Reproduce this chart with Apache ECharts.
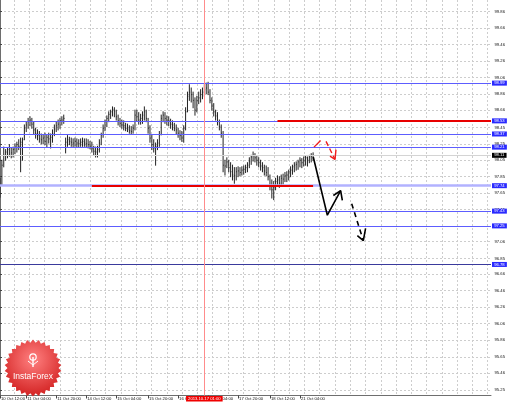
<!DOCTYPE html>
<html><head><meta charset="utf-8">
<script src="https://cdn.jsdelivr.net/npm/echarts@6/dist/echarts.min.js"></script>
<style>html,body{margin:0;padding:0;background:#fff}#c{width:510px;height:404px}</style>
</head><body><div id="c"></div>
<script>
// ---- data (H1 bars, index = bar number from 10 Oct 12:00) ----
const highs = [97.83,98.05,98.21,98.18,98.20,98.24,98.20,98.21,98.25,98.27,
98.30,98.32,98.32,98.48,98.52,98.56,98.58,98.56,98.52,98.44,
98.42,98.40,98.37,98.36,98.38,98.36,98.38,98.37,98.42,98.48,
98.52,98.54,98.56,98.58,98.60,98.32,98.35,98.33,98.32,98.31,
98.32,98.31,98.30,98.31,98.32,98.31,98.31,98.30,98.28,98.27,
98.22,98.21,98.22,98.30,98.38,98.48,98.54,98.59,98.64,98.66,
98.70,98.69,98.66,98.60,98.56,98.54,98.53,98.50,98.49,98.47,
98.46,98.48,98.66,98.66,98.63,98.61,98.64,98.70,98.66,98.56,
98.47,98.36,98.30,98.26,98.30,98.40,98.60,98.64,98.63,98.59,
98.58,98.55,98.53,98.50,98.48,98.44,98.41,98.40,98.47,98.69,
98.88,98.97,98.93,98.88,98.81,98.83,98.88,98.91,98.93,98.97,
98.99,99.00,98.91,98.81,98.74,98.66,98.63,98.54,98.48,98.40,
98.05,98.08,98.05,98.02,97.99,97.96,97.96,97.97,97.96,97.97,
97.98,97.99,98.02,98.08,98.11,98.15,98.13,98.10,98.08,98.05,
98.02,97.99,97.98,97.96,97.87,97.81,97.79,97.83,97.86,97.85,
97.87,97.88,97.90,97.91,97.93,97.97,97.99,98.02,98.03,98.05,
98.08,98.07,98.09,98.10,98.09,98.11,98.13,98.14];
const lows = [97.60,97.75,97.97,98.05,98.08,98.10,98.08,98.09,98.13,98.15,
98.18,97.91,98.05,98.30,98.40,98.44,98.47,98.44,98.37,98.32,
98.30,98.27,98.25,98.25,98.24,98.21,98.26,98.20,98.27,98.35,
98.40,98.42,98.44,98.48,98.50,98.14,98.22,98.24,98.22,98.21,
98.22,98.21,98.21,98.22,98.22,98.22,98.21,98.20,98.19,98.15,
98.11,98.09,98.09,98.15,98.24,98.33,98.41,98.46,98.52,98.56,
98.59,98.58,98.54,98.48,98.46,98.44,98.42,98.41,98.40,98.38,
98.37,98.38,98.42,98.53,98.49,98.49,98.50,98.54,98.52,98.38,
98.27,98.18,98.15,97.99,98.18,98.22,98.36,98.52,98.50,98.48,
98.47,98.44,98.42,98.41,98.37,98.33,98.30,98.28,98.27,98.42,
98.64,98.78,98.76,98.69,98.60,98.64,98.74,98.76,98.80,98.83,
98.86,98.85,98.75,98.66,98.59,98.54,98.48,98.42,98.33,97.91,
97.87,97.96,97.91,97.85,97.81,97.77,97.81,97.85,97.86,97.87,
97.88,97.90,97.91,97.96,98.00,98.04,98.03,97.99,97.97,97.93,
97.91,97.87,97.86,97.81,97.69,97.59,97.57,97.69,97.74,97.72,
97.75,97.76,97.79,97.79,97.81,97.85,97.88,97.91,97.93,97.94,
97.97,97.96,97.98,97.99,97.98,98.02,98.03,98.05];
const closes = [97.75,97.99,98.11,98.15,98.18,98.20,98.14,98.18,98.21,98.24,
98.22,98.27,98.30,98.44,98.48,98.52,98.54,98.49,98.42,98.37,
98.35,98.31,98.30,98.32,98.28,98.33,98.31,98.33,98.37,98.43,
98.47,98.49,98.53,98.54,98.56,98.27,98.30,98.28,98.27,98.26,
98.28,98.26,98.25,98.27,98.28,98.26,98.25,98.24,98.22,98.19,
98.16,98.15,98.18,98.26,98.36,98.44,98.52,98.56,98.61,98.64,
98.67,98.65,98.58,98.53,98.50,98.48,98.47,98.44,98.43,98.41,
98.40,98.44,98.60,98.58,98.54,98.56,98.60,98.64,98.56,98.44,
98.32,98.24,98.20,98.22,98.26,98.36,98.56,98.60,98.56,98.54,
98.53,98.49,98.48,98.44,98.42,98.38,98.35,98.32,98.44,98.64,
98.83,98.88,98.85,98.78,98.66,98.78,98.81,98.85,98.88,98.91,
98.93,98.88,98.78,98.71,98.64,98.59,98.52,98.46,98.38,97.99,
97.98,98.03,97.96,97.91,97.87,97.86,97.91,97.92,97.90,97.93,
97.94,97.96,97.99,98.04,98.09,98.11,98.08,98.05,98.02,97.98,
97.96,97.92,97.90,97.85,97.74,97.69,97.72,97.79,97.81,97.77,
97.83,97.82,97.86,97.87,97.91,97.93,97.97,97.99,98.00,98.03,
98.05,98.02,98.05,98.08,98.05,98.09,98.10,98.11];

const yTicks = [95.25,95.46,95.65,95.86,96.06,96.26,96.46,96.66,96.85,97.06,97.25,97.45,
                97.65,97.85,98.05,98.25,98.45,98.66,98.86,99.06,99.26,99.46,99.66,99.86];
const xLabelIdx = [0,14,30,46,62,79,95,111,127,144,160];
const xLabels = ["10 Oct 12:00","11 Oct 04:00","11 Oct 20:00","14 Oct 12:00","15 Oct 04:00",
                 "15 Oct 20:00","16 Oct 12:00","17 Oct 04:00","17 Oct 20:00","18 Oct 12:00","21 Oct 04:00"];

const blueLevels = [98.99, 98.53, 98.37, 98.21, 97.43, 97.25];
const zoneLevel = 97.74;
const deepLevel = 96.78;
const bidPrice = 98.11;
const redSegments = [{price: 97.74, from: 49, to: 167}, {price: 98.53, from: 148, to: 261.9}];
const cursorIdx = 109;
const cursorLabel = "2013.10.17 01:00";

const solidPath = [[167.1,98.09],[174.6,97.38],[181.7,97.68]];
const solidHead = [[177.8,97.62],[181.7,97.68],[182.6,97.56]];
const dashPath  = [[187.6,97.52],[193.8,97.07]];
const dashHead  = [[190.6,97.13],[193.8,97.07],[195.0,97.22]];
const redPath1  = [[167.5,98.21],[171.0,98.29]];
const redPath2  = [[173.9,98.28],[178.7,98.06]];
const redHead   = [[176.0,98.10],[178.7,98.06],[179.2,98.18]];

// ---- chart ----
const X_MAX = 261.9;
const xGrid = [];
for (let v = 7.5; v < X_MAX; v += 8.15) xGrid.push(v);

const barData = closes.map((c, i) => [i, c, lows[i], highs[i]]);
const FONT = 'Liberation Sans';

function boxLabel(txt, bg) {
  return {show: true, position: 'end', distance: 1, formatter: txt, color: '#fff',
          backgroundColor: bg, padding: [0.6, 2.2, 0.4, 2.2], fontSize: 4.2, fontFamily: FONT};
}
const markData = [];
blueLevels.forEach(v => markData.push({yAxis: v, lineStyle: {color: '#5d5dff', width: 1, type: 'solid'},
  label: boxLabel(v.toFixed(2), '#2a2aff')}));
markData.push({yAxis: zoneLevel, lineStyle: {color: '#b2b2ff', width: 2.5, type: 'solid'},
  label: boxLabel(zoneLevel.toFixed(2), '#2a2aff')});
markData.push({yAxis: deepLevel, lineStyle: {color: '#3a3a9c', width: 1.2, type: 'solid'},
  label: boxLabel(deepLevel.toFixed(2), '#2a2aff')});
markData.push({yAxis: bidPrice, lineStyle: {color: '#d4d4d4', width: 1, type: 'solid'},
  label: boxLabel(bidPrice.toFixed(2), '#000')});
redSegments.forEach(s => markData.push([
  {coord: [s.from, s.price], lineStyle: {color: '#e80000', width: 2, type: 'solid'}, label: {show: false}},
  {coord: [s.to, s.price]}]));
markData.push({xAxis: cursorIdx, lineStyle: {color: '#ff8c8c', width: 1, type: 'solid'},
  label: {show: true, position: 'start', distance: 0.5, formatter: cursorLabel, color: '#fff',
          backgroundColor: '#f00000', padding: [0.8, 2, 0.6, 2], fontSize: 4.2, fontFamily: FONT}});

function lineSeries(data, color, type, width) {
  return {type: 'line', data: data, symbol: 'none', silent: true, z: 6,
          lineStyle: {color: color, width: width, type: type}};
}

// logo
const cx = 33, cy = 368, rO = 28.5, rI = 25.5, teeth = 30;
const star = [];
for (let k = 0; k < teeth * 2; k++) {
  const a = Math.PI * k / teeth - Math.PI / 2;
  const r = k % 2 === 0 ? rO : rI;
  star.push([cx + r * Math.cos(a), cy + r * Math.sin(a)]);
}

const chart = echarts.init(document.getElementById('c'), null, {renderer: 'canvas'});
chart.setOption({
  animation: false,
  backgroundColor: '#ffffff',
  grid: {left: 0, right: 19, top: 0, bottom: 8.5, containLabel: false, outerBoundsMode: 'none'},
  xAxis: [{
    type: 'value', min: 0, max: X_MAX,
    axisLine: {show: true, onZero: false, lineStyle: {color: '#6e6e6e', width: 1}},
    axisTick: {show: true, customValues: xLabelIdx, length: 3, lineStyle: {color: '#444'}},
    axisLabel: {show: true, customValues: xLabelIdx, align: 'left', margin: 1, padding: [0, 0, 0, 1],
      fontSize: 4.2, fontFamily: FONT, color: '#111',
      formatter: v => xLabels[xLabelIdx.indexOf(Math.round(v))] || ''},
    splitLine: {show: false}
  }, {
    type: 'value', min: 0, max: X_MAX, position: 'bottom',
    axisLine: {show: false}, axisLabel: {show: false},
    axisTick: {show: false, customValues: xGrid},
    splitLine: {show: true, lineStyle: {color: '#cdcdcd', type: [2, 2], width: 1}}
  }],
  yAxis: {
    type: 'value', position: 'right', min: 95.183, max: 100.003, scale: true,
    axisLine: {show: true, lineStyle: {color: '#6e6e6e', width: 1}},
    axisTick: {show: true, customValues: yTicks, length: 2, lineStyle: {color: '#444'}},
    axisLabel: {show: true, customValues: yTicks, margin: 3.5, fontSize: 4.2, fontFamily: FONT, color: '#111',
      formatter: v => v.toFixed(2)},
    splitLine: {show: true, lineStyle: {color: '#cdcdcd', type: [2, 2], width: 1}}
  },
  series: [
    {
      type: 'line', data: [], silent: true, z: 3,
      markLine: {silent: true, symbol: ['none', 'none'], animation: false, precision: 2, data: markData}
    },
    {
      type: 'custom', data: barData, silent: true, z: 4,
      encode: {x: 0, y: [1, 2, 3]},
      renderItem: function (params, api) {
        const x = api.value(0);
        const pc = api.coord([x, api.value(1)]);
        const pl = api.coord([x, api.value(2)]);
        const ph = api.coord([x, api.value(3)]);
        return {type: 'group', children: [
          {type: 'line', shape: {x1: pl[0], y1: pl[1] + 0.5, x2: ph[0], y2: ph[1] - 0.5},
           style: {stroke: '#222', lineWidth: 1}},
          {type: 'line', shape: {x1: pc[0], y1: pc[1], x2: pc[0] + 0.8, y2: pc[1]},
           style: {stroke: '#222', lineWidth: 0.9}}
        ]};
      }
    },
    lineSeries(solidPath, '#000', 'solid', 1.6),
    lineSeries(solidHead, '#000', 'solid', 1.6),
    lineSeries(dashPath, '#000', [5, 4], 1.6),
    lineSeries(dashHead, '#000', 'solid', 1.6),
    lineSeries(redPath1, '#ee1c1c', 'solid', 1.4),
    lineSeries(redPath2, '#ee1c1c', [5, 3], 1.4),
    lineSeries(redHead, '#ee1c1c', 'solid', 1.4)
  ],
  graphic: [
    {type: 'polygon', z: 100, shape: {points: star},
     style: {fill: new echarts.graphic.RadialGradient(0.5, 0.35, 0.7, [
       {offset: 0, color: '#ff8080'}, {offset: 1, color: '#d01c1c'}])}},
    {type: 'circle', z: 101, shape: {cx: 33, cy: 357, r: 3.2}, style: {fill: 'none', stroke: '#fff', lineWidth: 1.2}},
    {type: 'line', z: 101, shape: {x1: 33, y1: 357, x2: 33, y2: 367}, style: {stroke: '#fff', lineWidth: 1.4}},
    {type: 'polyline', z: 101, shape: {points: [[28, 361], [33, 365], [38, 361]]}, style: {stroke: '#fff', lineWidth: 1, fill: 'none'}},
    {type: 'text', z: 101, x: 33, y: 377, style: {text: 'InstaForex', fill: '#fff', font: '8.5px "Liberation Sans", sans-serif',
      align: 'center', verticalAlign: 'middle'}}
  ]
});
</script>
</body></html>
